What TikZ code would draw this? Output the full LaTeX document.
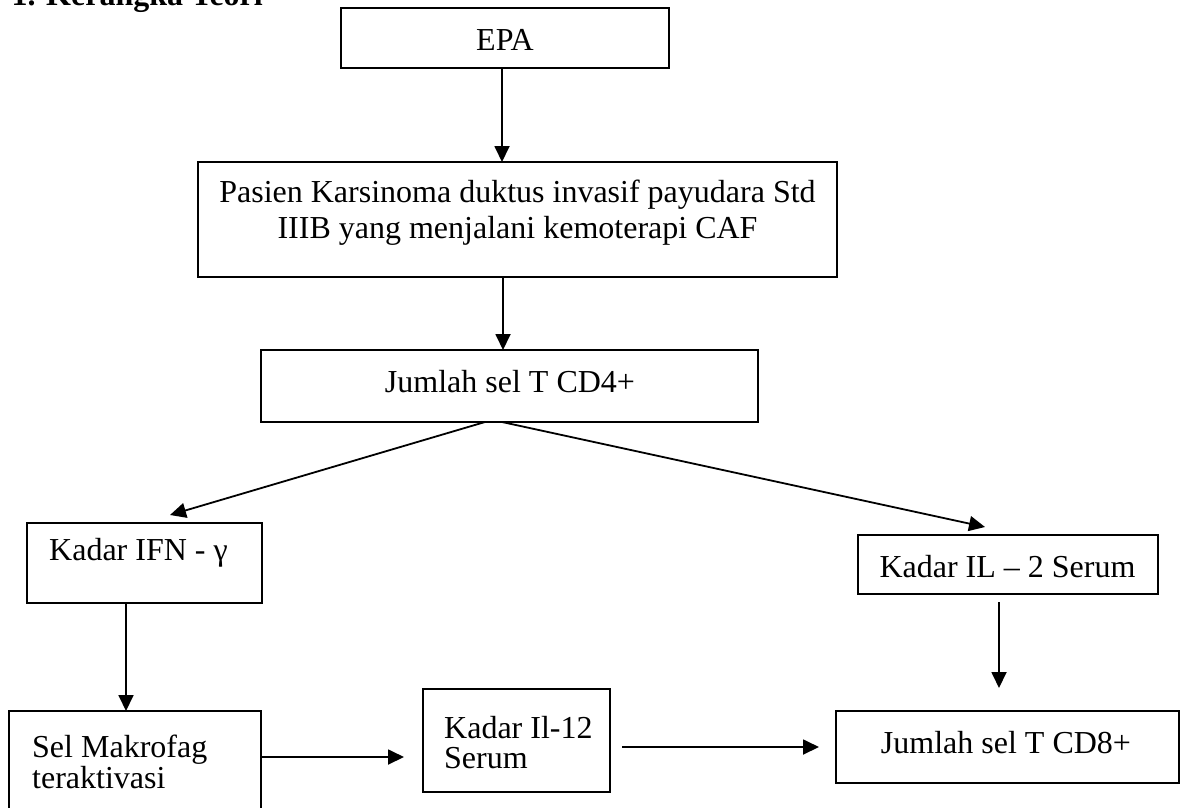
\documentclass[tikz,border=0pt]{standalone}
\usepackage{fontspec}
\setmainfont{Liberation Serif}
\usetikzlibrary{arrows.meta,calc}
\begin{document}
\begin{tikzpicture}[x=1pt,y=-1pt,
  box/.style={draw, line width=2.2pt, inner sep=0pt, outer sep=0pt},
  txt/.style={font=\fontsize{32}{36}\selectfont, inner sep=0pt},
  arr/.style={line width=1.8pt, -{Triangle[length=16pt,width=15pt]}}]
\useasboundingbox (0,0) rectangle (1188,807);
% title (cut off at top)
\node[txt, font=\bfseries\fontsize{32}{36}\selectfont, anchor=base east] (title) at (263,5) {1. Kerangka Teori};
% boxes
\node[box, minimum width=328, minimum height=60] (epa) at (505,38) {};
\node[txt, anchor=base] (epatxt) at (505,50) {EPA};
\node[box, minimum width=639, minimum height=115] (pasien) at (517.5,219.5) {};
\node[txt, anchor=base] (pasientxta) at (517.5,202) {Pasien Karsinoma duktus invasif payudara Std};
\node[txt, anchor=base] (pasientxtb) at (517.5,238) {IIIB yang menjalani kemoterapi CAF};
\node[box, minimum width=497, minimum height=72] (cdfour) at (509.5,386) {};
\node[txt, anchor=base] (cdfourtxt) at (510,392) {Jumlah sel T CD4+};
\node[box, minimum width=235, minimum height=80] (ifn) at (144.5,563) {};
\node[txt, anchor=base west] (ifntxt) at (49,560) {Kadar IFN - γ};
\node[box, minimum width=300, minimum height=59] (iltwo) at (1008,564.5) {};
\node[txt, anchor=base] (iltwotxt) at (1007.5,577) {Kadar IL – 2 Serum};
\node[box, minimum width=252, minimum height=109] (makro) at (135,765.5) {};
\node[txt, anchor=base west] (makrotxta) at (32,757) {Sel Makrofag};
\node[txt, anchor=base west] (makrotxtb) at (32,788) {teraktivasi};
\node[box, minimum width=187, minimum height=103] (il12) at (516.5,740.5) {};
\node[txt, anchor=base west] (il12txta) at (444,738) {Kadar Il-12};
\node[txt, anchor=base west] (il12txtb) at (444,768) {Serum};
\node[box, minimum width=343, minimum height=72] (cdeight) at (1007.5,747) {};
\node[txt, anchor=base] (cdeighttxt) at (1006,753) {Jumlah sel T CD8+};
% connectors
\draw[arr] ([xshift=-3pt]epa.south) -- ([xshift=-3pt]epa.south |- pasien.north);
\draw[arr] ([xshift=-14.5pt]pasien.south) -- ([xshift=-14.5pt]pasien.south |- cdfour.north);
\draw[arr] ([xshift=-24.5pt]cdfour.south) -- ($(ifn.north)+(25.5,-8)$);
\draw[arr] ([xshift=-7.5pt]cdfour.south) -- ($(iltwo.north)+(-23,-8)$);
\draw[arr] ([xshift=-18.5pt]ifn.south) -- ([xshift=-18.5pt]ifn.south |- makro.north);
\draw[arr] ($(iltwo.south)+(-9,8)$) -- ($(cdeight.north)+(-8.5,-23)$);
\draw[arr] ($(makro.east |- il12.west)+(0,16.5)$) -- ($(il12.west)+(-19,16.5)$);
\draw[arr] ($(il12.east)+(12,6.5)$) -- ($(cdeight.west)+(-17,0)$);
\end{tikzpicture}
\end{document}
